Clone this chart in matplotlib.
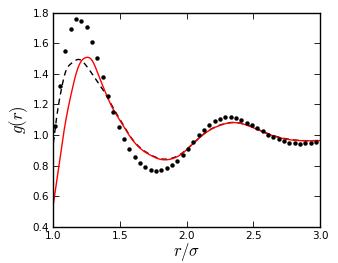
import matplotlib
matplotlib.use("Agg")
import matplotlib.pyplot as plt
import numpy as np

plt.rcParams['mathtext.fontset'] = 'cm'
plt.rcParams['font.family'] = ['DejaVu Sans']

# simulation points
r_pts = [1.01 + 0.04 * k for k in range(50)]
g_pts = [1.06, 1.32, 1.55, 1.69, 1.76, 1.745, 1.705, 1.61, 1.50, 1.38,
         1.255, 1.15, 1.055, 0.972, 0.909, 0.854, 0.819, 0.789, 0.771, 0.767,
         0.771, 0.784, 0.806, 0.832, 0.871, 0.907, 0.954, 0.998, 1.033, 1.067,
         1.090, 1.107, 1.116, 1.12, 1.111, 1.098, 1.081, 1.067, 1.046, 1.024,
         1.002, 0.989, 0.976, 0.963, 0.950, 0.946, 0.941, 0.946, 0.950, 0.954]

# theory (red solid)
r_red = [1.0, 1.048, 1.085, 1.135, 1.17, 1.20, 1.243, 1.288, 1.338, 1.388, 1.438, 1.488,
         1.575, 1.65, 1.725, 1.80, 1.875, 1.95, 2.025, 2.10, 2.175, 2.25, 2.35, 2.45,
         2.55, 2.65, 2.75, 2.85, 3.0]
g_red = [0.55, 0.84, 1.055, 1.275, 1.40, 1.47, 1.506, 1.49, 1.392, 1.283, 1.185, 1.11,
         0.989, 0.913, 0.869, 0.841, 0.841, 0.869, 0.924, 0.985, 1.033, 1.063, 1.081, 1.064,
         1.028, 0.994, 0.972, 0.963, 0.963]

# theory (black dashed)
r_dash = [1.0, 1.03, 1.06, 1.09, 1.13, 1.17, 1.20, 1.24, 1.29, 1.34, 1.39, 1.44, 1.50,
          1.575, 1.65, 1.725, 1.80, 1.875, 1.95, 2.025, 2.10, 2.175, 2.25, 2.35, 2.45,
          2.55, 2.65, 2.75, 2.85, 3.0]
g_dash = [0.95, 1.15, 1.30, 1.41, 1.465, 1.49, 1.492, 1.46, 1.40, 1.335, 1.27, 1.19, 1.10,
          0.992, 0.917, 0.872, 0.845, 0.845, 0.872, 0.926, 0.987, 1.035, 1.065, 1.082, 1.066,
          1.030, 0.996, 0.974, 0.964, 0.964]


def spline(x, y, n=500):
    x = np.asarray(x, float)
    y = np.asarray(y, float)
    m = len(x)
    h = np.diff(x)
    A = np.zeros((m, m))
    b = np.zeros(m)
    A[0, 0] = 1
    A[-1, -1] = 1
    for i in range(1, m - 1):
        A[i, i - 1] = h[i - 1]
        A[i, i] = 2 * (h[i - 1] + h[i])
        A[i, i + 1] = h[i]
        b[i] = 3 * ((y[i + 1] - y[i]) / h[i] - (y[i] - y[i - 1]) / h[i - 1])
    c = np.linalg.solve(A, b)
    xs = np.linspace(x[0], x[-1], n)
    idx = np.clip(np.searchsorted(x, xs) - 1, 0, m - 2)
    bb = (y[1:] - y[:-1]) / h - h * (2 * c[:-1] + c[1:]) / 3
    d = (c[1:] - c[:-1]) / (3 * h)
    t = xs - x[idx]
    ys = y[idx] + bb[idx] * t + c[idx] * t ** 2 + d[idx] * t ** 3
    return xs, ys


fig = plt.figure(figsize=(3.38, 2.63), dpi=100)
ax = fig.add_axes([0.158, 0.138, 0.789, 0.814])

xs, ys = spline(r_dash, g_dash)
ax.plot(xs, ys, color='black', linestyle='--', linewidth=1.0, dashes=(4, 3))
xs, ys = spline(r_red, g_red)
ax.plot(xs, ys, color='red', linewidth=1.0)
ax.plot(r_pts, g_pts, 'o', color='black', markersize=3.2, markeredgewidth=0)

ax.set_xlim(1.0, 3.0)
ax.set_ylim(0.4, 1.8)
ax.set_xticks([1.0, 1.5, 2.0, 2.5, 3.0])
ax.set_yticks([0.4, 0.6, 0.8, 1.0, 1.2, 1.4, 1.6, 1.8])
ax.tick_params(direction='in', top=True, right=True, length=4, width=0.6,
               labelsize=7.5, pad=3)
for s in ax.spines.values():
    s.set_linewidth(1.0)
ax.set_xlabel(r'$r/\sigma$', fontsize=12, labelpad=0)
ax.set_ylabel(r'$g(r)$', fontsize=12, labelpad=2)

fig.savefig('out.png', dpi=100)
